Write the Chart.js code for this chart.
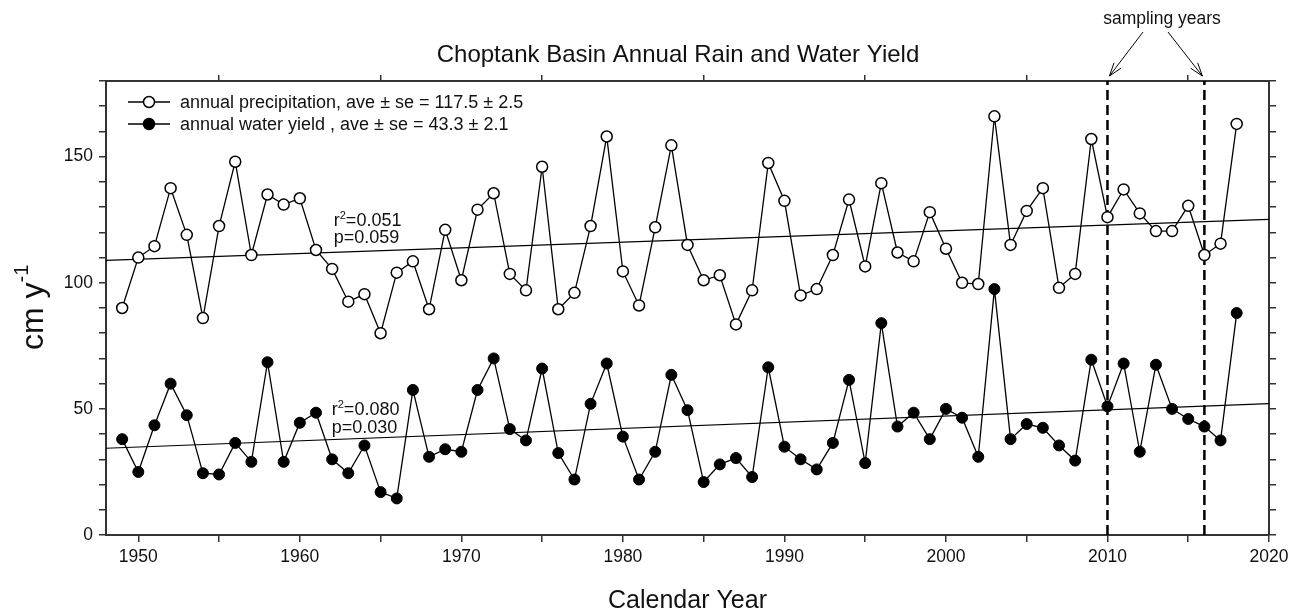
<!DOCTYPE html>
<html>
<head>
<meta charset="utf-8">
<script src="https://cdn.jsdelivr.net/npm/chart.js@4/dist/chart.umd.min.js"></script>
<style>
  html, body { margin: 0; padding: 0; background: #fff; }
</style>
</head>
<body>
<canvas id="rainCanvas" width="1298" height="613"></canvas>
<script>
// calendar years
const years = [
  1949, 1950, 1951, 1952, 1953, 1954, 1955, 1956, 1957, 1958,
  1959, 1960, 1961, 1962, 1963, 1964, 1965, 1966, 1967, 1968,
  1969, 1970, 1971, 1972, 1973, 1974, 1975, 1976, 1977, 1978,
  1979, 1980, 1981, 1982, 1983, 1984, 1985, 1986, 1987, 1988,
  1989, 1990, 1991, 1992, 1993, 1994, 1995, 1996, 1997, 1998,
  1999, 2000, 2001, 2002, 2003, 2004, 2005, 2006, 2007, 2008,
  2009, 2010, 2011, 2012, 2013, 2014, 2015, 2016, 2017, 2018
];

// annual precipitation (cm/y)
const precipitation = [
  90, 110, 114.5, 137.5, 119, 86, 122.5, 148, 111, 135,
  131, 133.5, 113, 105.5, 92.5, 95.5, 80, 104, 108.5, 89.5,
  121, 101, 129, 135.5, 103.5, 97, 146, 89.5, 96, 122.5,
  158, 104.5, 91, 122, 154.5, 115, 101, 103, 83.5, 97,
  147.5, 132.5, 95, 97.5, 111, 133, 106.5, 139.5, 112, 108.5,
  128, 113.5, 100, 99.5, 166, 115, 128.5, 137.5, 98, 103.5,
  157, 126, 137, 127.5, 120.5, 120.5, 130.5, 111, 115.5, 163
];

// annual water yield (cm/y)
const waterYield = [
  38, 25, 43.5, 60, 47.5, 24.5, 24, 36.5, 29, 68.5,
  29, 44.5, 48.5, 30, 24.5, 35.5, 17, 14.5, 57.5, 31,
  34, 33, 57.5, 70, 42, 37.5, 66, 32.5, 22, 52,
  68, 39, 22, 33, 63.5, 49.5, 21, 28, 30.5, 23,
  66.5, 35, 30, 26, 36.5, 61.5, 28.5, 84, 43, 48.5,
  38, 50, 46.5, 31, 97.5, 38, 44, 42.5, 35.5, 29.5,
  69.5, 51, 68, 33, 67.5, 50, 46, 43, 37.5, 88
];

// regression lines, end points at the axis limits
const trendYears = [1948, 2020];
const precipTrend = [108.9, 125.1];
const yieldTrend = [34.4, 52.1];

const samplingYears = [2010, 2016];

// axis ticks
const xTicks = [1950, 1955, 1960, 1965, 1970, 1975, 1980, 1985, 1990, 1995, 2000, 2005, 2010, 2015, 2020];
const xLabels = ["1950", "", "1960", "", "1970", "", "1980", "", "1990", "", "2000", "", "2010", "", "2020"];
const topTicks = [1955, 1965, 1975, 1985, 1995, 2005, 2015];
const yLabels = [0, 50, 100, 150];

const xMin = 1948, xMax = 2020, yMin = 0, yMax = 180;

const FONT = "'Liberation Sans', Arial, sans-serif";
const INK = "#111";
const AXIS = "#333";

function pts(xs, ys) {
  return xs.map((x, i) => ({ x: x, y: ys[i] }));
}

const datasets = [
  {
    label: "annual precipitation",
    data: pts(years, precipitation),
    borderColor: "#000", borderWidth: 1.3,
    pointRadius: 5.5, pointBackgroundColor: "#fff",
    pointBorderColor: "#000", pointBorderWidth: 1.5,
    order: 1
  },
  {
    label: "annual water yield",
    data: pts(years, waterYield),
    borderColor: "#000", borderWidth: 1.3,
    pointRadius: 5.5, pointBackgroundColor: "#000",
    pointBorderColor: "#000", pointBorderWidth: 1,
    order: 0
  },
  {
    label: "precip trend",
    data: pts(trendYears, precipTrend),
    borderColor: "#000", borderWidth: 1.2, pointRadius: 0,
    order: 5
  },
  {
    label: "yield trend",
    data: pts(trendYears, yieldTrend),
    borderColor: "#000", borderWidth: 1.2, pointRadius: 0,
    order: 5
  }
];

samplingYears.forEach(yr => {
  datasets.push({
    label: "sampling " + yr,
    data: [{ x: yr, y: yMin }, { x: yr, y: yMax }],
    borderColor: "#000", borderWidth: 2.5, borderDash: [10, 5],
    pointRadius: 0, order: 4
  });
});

const tickGrid = (len) => ({
  drawOnChartArea: false, drawTicks: true, tickLength: len,
  color: AXIS, lineWidth: 1.5
});
const frame = { display: true, color: AXIS, width: 2 };

function superscriptText(ctx, x, y, parts) {
  // parts: [text, size, raise]
  let cx = x;
  parts.forEach(p => {
    ctx.font = p[1] + "px " + FONT;
    ctx.fillText(p[0], cx, y - p[2]);
    cx += ctx.measureText(p[0]).width;
  });
}

function arrow(ctx, x0, y0, x1, y1) {
  ctx.beginPath();
  ctx.moveTo(x0, y0);
  ctx.lineTo(x1, y1);
  const a = Math.atan2(y1 - y0, x1 - x0);
  const L = 14, w = 0.32;
  ctx.moveTo(x1 - L * Math.cos(a - w), y1 - L * Math.sin(a - w));
  ctx.lineTo(x1, y1);
  ctx.lineTo(x1 - L * Math.cos(a + w), y1 - L * Math.sin(a + w));
  ctx.stroke();
}

const overlay = {
  id: "overlay",
  afterDraw(chart) {
    const ctx = chart.ctx;
    const sx = chart.scales.x, sy = chart.scales.y;
    ctx.save();
    ctx.fillStyle = INK;
    ctx.strokeStyle = "#000";
    ctx.textBaseline = "alphabetic";

    // title
    ctx.textAlign = "center";
    ctx.font = "24px " + FONT;
    ctx.fillText("Choptank Basin Annual Rain and Water Yield", 678, 62);

    // x title
    ctx.font = "25px " + FONT;
    ctx.fillText("Calendar Year", (chart.chartArea.left + chart.chartArea.right) / 2, 608);

    // y title, rotated
    ctx.save();
    ctx.translate(43, 350);
    ctx.rotate(-Math.PI / 2);
    ctx.textAlign = "left";
    superscriptText(ctx, 0, 0, [["cm y", 32, 0], ["-1", 20, 15]]);
    ctx.restore();

    // legend
    ctx.textAlign = "left";
    ctx.lineWidth = 1.3;
    const rows = [
      { y: 102, fill: "#fff", text: "annual precipitation, ave \u00b1 se = 117.5 \u00b1 2.5" },
      { y: 124, fill: "#000", text: "annual water yield , ave \u00b1 se = 43.3 \u00b1 2.1" }
    ];
    rows.forEach(r => {
      ctx.beginPath();
      ctx.moveTo(128, r.y);
      ctx.lineTo(170, r.y);
      ctx.stroke();
      ctx.beginPath();
      ctx.arc(149, r.y, 5.5, 0, Math.PI * 2);
      ctx.fillStyle = r.fill;
      ctx.fill();
      ctx.lineWidth = 1.5;
      ctx.stroke();
      ctx.lineWidth = 1.3;
      ctx.fillStyle = INK;
      ctx.font = "18px " + FONT;
      ctx.fillText(r.text, 180, r.y + 6);
    });

    // regression stats
    const statX = sx.getPixelForValue(1962.1);
    superscriptText(ctx, statX, sy.getPixelForValue(122.5), [["r", 18, 0], ["2", 11, 7], ["=0.051", 18, 0]]);
    superscriptText(ctx, statX, sy.getPixelForValue(115.8), [["p=0.059", 18, 0]]);
    superscriptText(ctx, statX - 2, sy.getPixelForValue(47.6), [["r", 18, 0], ["2", 11, 7], ["=0.080", 18, 0]]);
    superscriptText(ctx, statX - 2, sy.getPixelForValue(40.3), [["p=0.030", 18, 0]]);

    // sampling years callout
    ctx.textAlign = "center";
    ctx.font = "17.5px " + FONT;
    ctx.fillText("sampling years", 1162, 24);
    ctx.lineWidth = 1;
    const t1 = sx.getPixelForValue(samplingYears[0]) + 2;
    const t2 = sx.getPixelForValue(samplingYears[1]) - 2;
    arrow(ctx, 1143, 32, t1, 76);
    arrow(ctx, 1168, 32, t2, 76);

    ctx.restore();
  }
};

const rainChart = new Chart(document.getElementById("rainCanvas"), {
  type: "line",
  data: { datasets: datasets },
  options: {
    responsive: false,
    animation: false,
    devicePixelRatio: 1,
    layout: { padding: 0 },
    plugins: { legend: { display: false }, title: { display: false }, tooltip: { enabled: false } },
    elements: { line: { tension: 0 } },
    scales: {
      x: {
        type: "linear", position: "bottom", min: xMin, max: xMax,
        afterBuildTicks: s => { s.ticks = xTicks.map(v => ({ value: v })); },
        ticks: {
          autoSkip: false, maxRotation: 0, color: INK, padding: 5,
          font: { family: FONT, size: 17.5 },
          callback: (v, i) => xLabels[i]
        },
        grid: tickGrid(7),
        border: frame,
        afterFit: s => { s.height = 78; }
      },
      x2: {
        type: "linear", position: "top", min: xMin, max: xMax,
        afterBuildTicks: s => { s.ticks = topTicks.map(v => ({ value: v })); },
        ticks: { display: false },
        grid: tickGrid(6),
        border: frame,
        afterFit: s => { s.height = 81; }
      },
      y: {
        type: "linear", position: "left", min: yMin, max: yMax,
        ticks: {
          stepSize: 10, color: INK, padding: 6,
          font: { family: FONT, size: 17.5 },
          callback: v => (yLabels.includes(v) ? String(v) : "")
        },
        grid: tickGrid(7),
        border: frame,
        afterFit: s => { s.width = 106; }
      },
      y2: {
        type: "linear", position: "right", min: yMin, max: yMax,
        ticks: { display: false, stepSize: 10 },
        grid: tickGrid(7),
        border: frame,
        afterFit: s => { s.width = 29; }
      }
    }
  },
  plugins: [overlay]
});
</script>
</body>
</html>
